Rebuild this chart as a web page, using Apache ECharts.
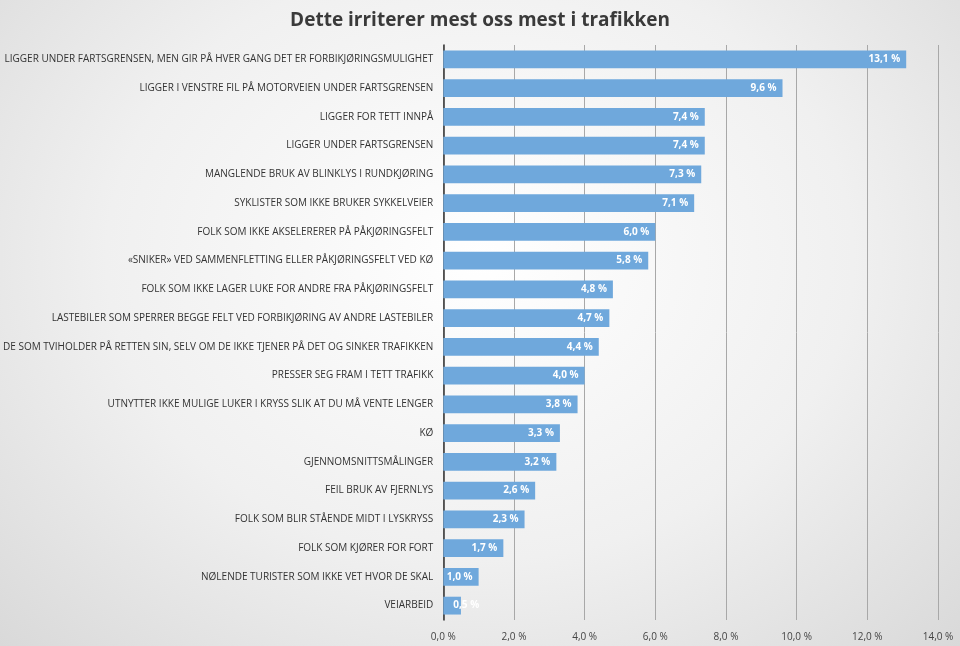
<!DOCTYPE html>
<html>
<head>
<meta charset="utf-8">
<script src="https://cdn.jsdelivr.net/npm/echarts@6/dist/echarts.min.js"></script>
<style>
html,body{margin:0;padding:0;}
#chart{width:960px;height:646px;background:radial-gradient(ellipse at 50% 40%,#ffffff 0%,#f0f0f0 55%,#d9d9d9 100%);}
</style>
</head>
<body>
<div id="chart"></div>
<script>
// categories listed top to bottom
const categories = [
  'LIGGER UNDER FARTSGRENSEN, MEN GIR PÅ HVER GANG DET ER FORBIKJØRINGSMULIGHET',
  'LIGGER I VENSTRE FIL PÅ MOTORVEIEN UNDER FARTSGRENSEN',
  'LIGGER FOR TETT INNPÅ',
  'LIGGER UNDER FARTSGRENSEN',
  'MANGLENDE BRUK AV BLINKLYS I RUNDKJØRING',
  'SYKLISTER SOM IKKE BRUKER SYKKELVEIER',
  'FOLK SOM IKKE AKSELERERER PÅ PÅKJØRINGSFELT',
  '«SNIKER» VED SAMMENFLETTING ELLER PÅKJØRINGSFELT VED KØ',
  'FOLK SOM IKKE LAGER LUKE FOR ANDRE FRA PÅKJØRINGSFELT',
  'LASTEBILER SOM SPERRER BEGGE FELT VED FORBIKJØRING AV ANDRE LASTEBILER',
  'DE SOM TVIHOLDER PÅ RETTEN SIN, SELV OM DE IKKE TJENER PÅ DET OG SINKER TRAFIKKEN',
  'PRESSER SEG FRAM I TETT TRAFIKK',
  'UTNYTTER IKKE MULIGE LUKER I KRYSS SLIK AT DU MÅ VENTE LENGER',
  'KØ',
  'GJENNOMSNITTSMÅLINGER',
  'FEIL BRUK AV FJERNLYS',
  'FOLK SOM BLIR STÅENDE MIDT I LYSKRYSS',
  'FOLK SOM KJØRER FOR FORT',
  'NØLENDE TURISTER SOM IKKE VET HVOR DE SKAL',
  'VEIARBEID'
];
const values = [13.1, 9.6, 7.4, 7.4, 7.3, 7.1, 6.0, 5.8, 4.8, 4.7, 4.4, 4.0, 3.8, 3.3, 3.2, 2.6, 2.3, 1.7, 1.0, 0.5];

const fmt = v => v.toFixed(1).replace('.', ',') + ' %';
const chart = echarts.init(document.getElementById('chart'));
chart.setOption({
  textStyle: {fontFamily: 'Open Sans'},
  title: {
    text: 'Dette irriterer mest oss mest i trafikken',
    left: 'center', top: 6,
    textStyle: {fontSize: 19, fontWeight: 'bold', color: '#3a3a3a', fontFamily: 'Open Sans'}
  },
  grid: {left: 443, right: 22, top: 45, bottom: 26},
  xAxis: {
    type: 'value', min: 0, max: 14, interval: 2,
    axisLabel: {formatter: v => fmt(v), color: '#444', fontSize: 10, margin: 12},
    splitLine: {lineStyle: {color: '#a8a8a8'}},
    axisLine: {show: false}, axisTick: {show: false}
  },
  yAxis: {
    type: 'category', inverse: true, data: categories,
    axisLine: {lineStyle: {color: '#333', width: 1.5}},
    axisTick: {show: false},
    axisLabel: {color: '#333', fontSize: 10, margin: 10}
  },
  series: [{
    type: 'bar',
    data: values.map(v => ({
      value: v,
      label: v < 1 ? {position: 'insideLeft', offset: [4, 0]} : undefined
    })),
    barWidth: '62%',
    itemStyle: {color: '#6fa8dc'},
    label: {
      show: true, position: 'insideRight', distance: 6,
      formatter: p => fmt(p.value), color: '#fff', fontWeight: 'bold', fontSize: 10
    }
  }]
});
</script>
</body>
</html>
